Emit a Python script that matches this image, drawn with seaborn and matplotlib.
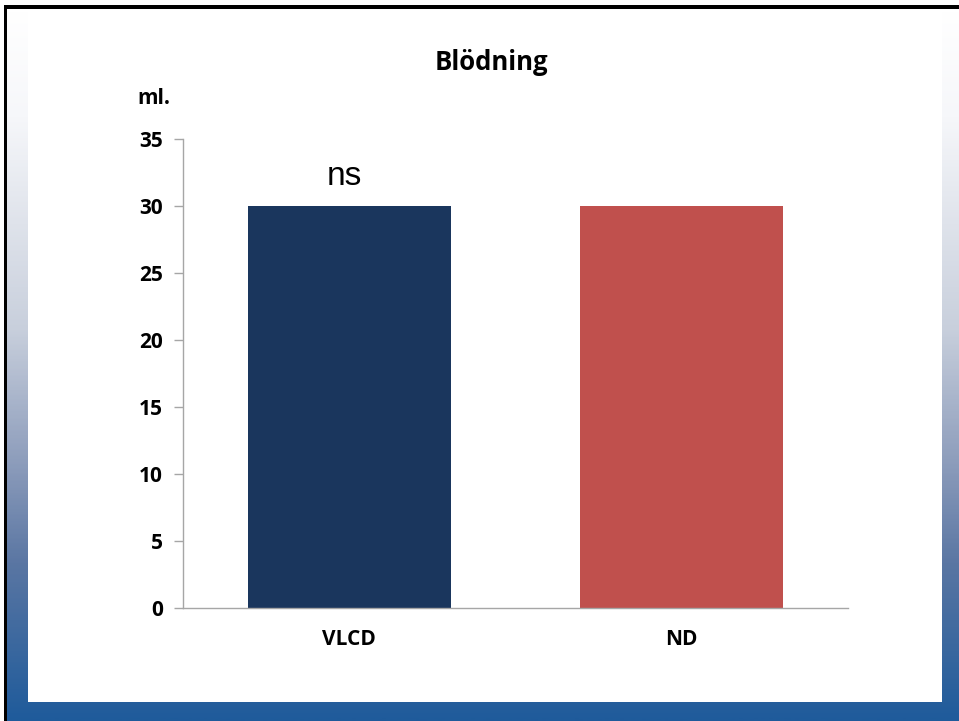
import numpy as np
import pandas as pd
import seaborn as sns
import matplotlib.pyplot as plt
from matplotlib.colors import LinearSegmentedColormap
from matplotlib.patches import Rectangle

# data
groups = ["VLCD", "ND"]
bleeding_ml = [30, 30]
bar_colors = ["#1a365d", "#c0504d"]
title = "Blödning"
unit = "ml."
annotation = "ns"

W, H = 959, 721
fig = plt.figure(figsize=(W / 100, H / 100), dpi=100)

### slide background: gradient frame, black edge, white panel
bg = fig.add_axes([0, 0, 1, 1], zorder=-1)
bg.set_xlim(0, W)
bg.set_ylim(H, 0)
bg.axis("off")
cmap = LinearSegmentedColormap.from_list(
    "slide", [(0.0, "#ffffff"), (0.15, "#f6f7fa"), (0.45, "#c8cfdc"),
              (0.64, "#8c9cbb"), (0.78, "#5a76a3"), (1.0, "#1f5b9b")])
grad = np.linspace(0, 1, 400).reshape(-1, 1)
bg.imshow(grad, cmap=cmap, aspect="auto", extent=(7, W, H, 9), interpolation="bilinear")
bg.add_patch(Rectangle((28, 9), 942 - 28, 702 - 9, color="white", lw=0))
bg.add_patch(Rectangle((4, 5), W - 4, 4, color="black", lw=0))
bg.add_patch(Rectangle((4, 5), 3, H - 5, color="black", lw=0))

### chart
ax = fig.add_axes([183 / W, 1 - 608 / H, (848 - 183) / W, (608 - 139) / H])
df = pd.DataFrame({"group": groups, "ml": bleeding_ml})
sns.barplot(data=df, x="group", y="ml", hue="group", palette=bar_colors,
            width=0.61, saturation=1, legend=False, ax=ax)

ax.set_ylim(0, 35)
ax.set_yticks(range(0, 36, 5))
ax.set_xlabel("")
ax.set_ylabel("")
ax.set_facecolor("none")
for s in ["top", "right"]:
    ax.spines[s].set_visible(False)
for s in ["left", "bottom"]:
    ax.spines[s].set_color("#a6a6a6")
    ax.spines[s].set_linewidth(1.0)
ax.tick_params(axis="y", length=6.5, width=1.0, color="#a6a6a6", pad=8)
ax.tick_params(axis="x", length=0, pad=15)
for lab in ax.get_yticklabels():
    lab.set_fontfamily("Open Sans")
    lab.set_fontweight("bold")
    lab.set_fontsize(15)
for lab in ax.get_xticklabels():
    lab.set_fontfamily("Open Sans")
    lab.set_fontweight("bold")
    lab.set_fontsize(15)

fig.text(491 / W, 1 - 62 / H, title, ha="center", va="center",
         family="Open Sans", weight="bold", fontsize=18.5)
fig.text(154 / W, 1 - 99 / H, unit, ha="center", va="center",
         family="Open Sans", weight="bold", fontsize=15)
ax.text(-0.015, 31.6, annotation, ha="center", va="baseline",
        family="Liberation Sans", fontsize=24)

fig.savefig("out.png", dpi=100)
